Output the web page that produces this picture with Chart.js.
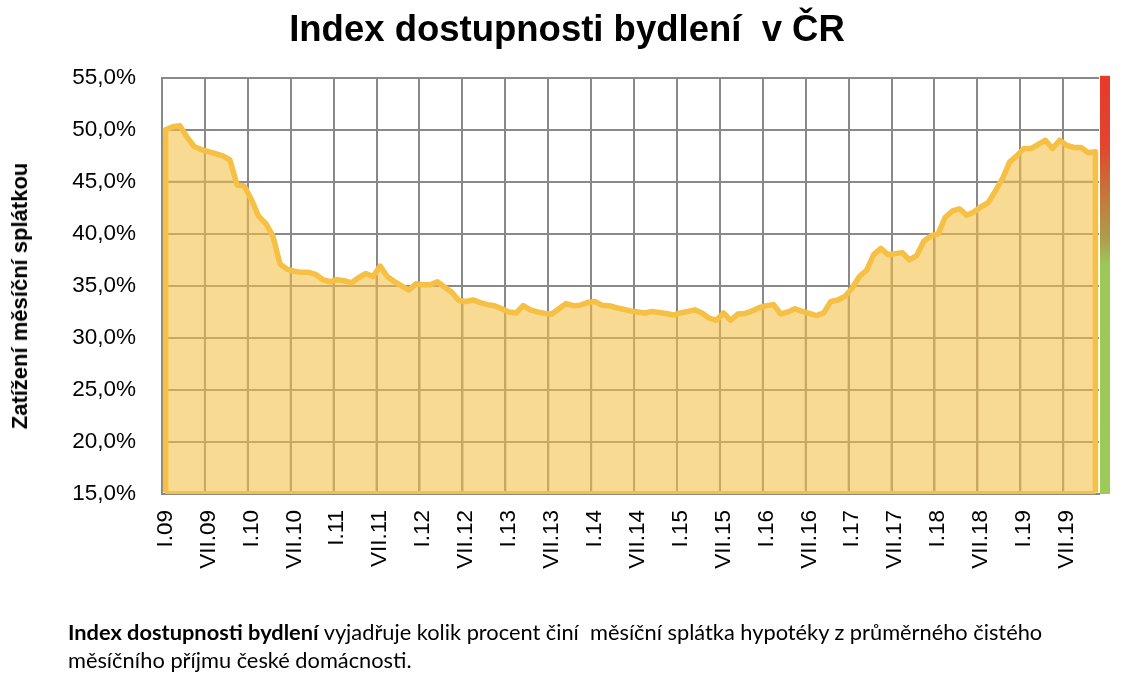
<!DOCTYPE html>
<html>
<head>
<meta charset="utf-8">
<script src="https://cdn.jsdelivr.net/npm/chart.js@4.4.1/dist/chart.umd.min.js"></script>
<style>
  html, body { margin: 0; padding: 0; background: #fff; }
  #wrap { position: relative; width: 1134px; height: 682px; overflow: hidden; }
  #chart { position: absolute; left: 0; top: 0; }
  #ytitle { position: absolute; left: 20px; top: 296px; transform: translate(-50%, -50%) rotate(-90deg);
            font: bold 22px "Liberation Sans", Arial, sans-serif; white-space: nowrap; color: #000; }
  #note { position: absolute; left: 68px; top: 618px; font: 21.8px Lato, sans-serif; line-height: 28px; color: #000; white-space: nowrap; }
  #note b { font-weight: 700; }
</style>
</head>
<body>
<div id="wrap">
  <canvas id="chart" width="1134" height="682"></canvas>
  <div id="ytitle">Zatížení měsíční splátkou</div>
  <div id="note"><b>Index dostupnosti bydlení</b> vyjadřuje kolik procent činí&nbsp; měsíční splátka hypotéky z průměrného čistého<br>měsíčního příjmu české domácnosti.</div>
</div>
<script>
// ---- data ----
const monthNames = ['I','II','III','IV','V','VI','VII','VIII','IX','X','XI','XII'];
const yearLabels = ['09','10','11','12','13','14','15','16','17','18','19'];
const indexValues = [
  50.0, 50.3, 50.4, 49.3, 48.4, 48.1, 47.9, 47.7, 47.5, 47.1, 44.7, 44.6,   // 2009
  43.3, 41.7, 41.0, 39.8, 37.1, 36.6, 36.4, 36.3, 36.3, 36.1, 35.6, 35.4,   // 2010
  35.6, 35.5, 35.3, 35.8, 36.2, 35.9, 36.9, 35.9, 35.4, 35.0, 34.6, 35.2,   // 2011
  35.1, 35.1, 35.4, 34.9, 34.4, 33.6, 33.5, 33.65, 33.4, 33.2, 33.1, 32.8,  // 2012
  32.5, 32.4, 33.1, 32.7, 32.5, 32.35, 32.3, 32.8, 33.3, 33.1, 33.15, 33.4, // 2013
  33.5, 33.15, 33.1, 32.9, 32.75, 32.6, 32.5, 32.4, 32.55, 32.45, 32.35, 32.2, // 2014
  32.4, 32.55, 32.7, 32.4, 31.9, 31.7, 32.4, 31.7, 32.3, 32.35, 32.6, 32.9, // 2015
  33.1, 33.2, 32.3, 32.5, 32.8, 32.55, 32.35, 32.15, 32.4, 33.5, 33.65, 34.0, // 2016
  34.8, 35.9, 36.5, 38.0, 38.6, 38.0, 38.1, 38.2, 37.5, 37.9, 39.3, 39.8,   // 2017
  40.0, 41.6, 42.2, 42.4, 41.8, 42.1, 42.6, 43.0, 44.1, 45.3, 46.9, 47.5,   // 2018
  48.2, 48.2, 48.6, 49.0, 48.2, 49.0, 48.5, 48.3, 48.3, 47.8, 47.9          // 2019
];
const labelEvery = 6;
const yMin = 15, yMax = 55, yStep = 5;

const categories = [];
for (const y of yearLabels) {
  for (const m of monthNames) {
    if (categories.length < indexValues.length) categories.push(m + '.' + y);
  }
}

// ---- styles ----
const GRID = '#898989';
const GRID_IN_FILL = 'rgb(201,168,100)';
const LINE = 'rgb(245,192,68)';
const FILL = 'rgba(245,192,68,0.58)';
const FONT = '"Liberation Sans", Arial, sans-serif';

// gridlines seen through the filled area (drawn after the fill, before the line)
const gridThroughFill = {
  id: 'gridThroughFill',
  beforeDatasetDraw(chart, args) {
    const pts = args.meta.data;
    if (!pts.length) return;
    const { ctx, chartArea: a, scales: { x: xs, y: ys } } = chart;
    const base = ys.getPixelForValue(ys.min);
    ctx.save();
    ctx.beginPath();
    ctx.rect(a.left, a.top, a.right - a.left, a.bottom - a.top);
    ctx.clip();
    ctx.beginPath();
    ctx.moveTo(pts[0].x, base);
    for (const p of pts) ctx.lineTo(p.x, p.y);
    ctx.lineTo(pts[pts.length - 1].x, base);
    ctx.closePath();
    ctx.clip();
    ctx.strokeStyle = GRID_IN_FILL;
    ctx.lineWidth = 2;
    const half = (xs.getPixelForValue(1) - xs.getPixelForValue(0)) / 2;
    ctx.beginPath();
    for (let i = 0; i < pts.length; i += labelEvery) {
      const gx = xs.getPixelForValue(i) - half;
      ctx.moveTo(gx, a.top); ctx.lineTo(gx, a.bottom);
    }
    for (let v = yMin; v <= yMax; v += yStep) {
      const gy = ys.getPixelForValue(v);
      ctx.moveTo(a.left, gy); ctx.lineTo(a.right, gy);
    }
    ctx.stroke();
    ctx.restore();
  }
};

const areaEdges = {
  id: 'areaEdges',
  afterDatasetsDraw(chart) {
    const pts = chart.getDatasetMeta(0).data;
    if (!pts.length) return;
    const first = pts[0], last = pts[pts.length - 1];
    const base = chart.scales.y.getPixelForValue(chart.scales.y.min);
    const ctx = chart.ctx;
    ctx.save();
    ctx.strokeStyle = LINE;
    ctx.lineWidth = 5.5;
    ctx.lineJoin = 'round';
    ctx.beginPath();
    ctx.moveTo(first.x, first.y);
    ctx.lineTo(first.x, base - 1.5);
    ctx.stroke();
    ctx.beginPath();
    ctx.moveTo(last.x, base - 1.5);
    ctx.lineTo(last.x, last.y);
    ctx.stroke();
    ctx.lineWidth = 3;
    ctx.beginPath();
    ctx.moveTo(first.x, base - 1.5);
    ctx.lineTo(last.x, base - 1.5);
    ctx.stroke();
    ctx.restore();
  }
};

const scaleBar = {
  id: 'scaleBar',
  afterDraw(chart) {
    const { ctx, chartArea: a } = chart;
    const g = ctx.createLinearGradient(0, a.top, 0, a.bottom);
    g.addColorStop(0, '#E8392B');
    g.addColorStop(0.16, '#E2452E');
    g.addColorStop(0.29, '#C47A3C');
    g.addColorStop(0.38, '#AE9A4C');
    g.addColorStop(0.45, '#9CC85A');
    g.addColorStop(1, '#9CCB5A');
    ctx.save();
    ctx.fillStyle = g;
    ctx.fillRect(a.right + 1, a.top - 2, 10, a.bottom - a.top + 2);
    ctx.restore();
  }
};

new Chart(document.getElementById('chart'), {
  type: 'line',
  data: {
    labels: categories,
    datasets: [{
      data: indexValues,
      borderColor: LINE,
      backgroundColor: FILL,
      borderWidth: 5.5,
      borderJoinStyle: 'round',
      borderCapStyle: 'round',
      pointRadius: 0,
      tension: 0,
      fill: 'start'
    }]
  },
  options: {
    responsive: false,
    animation: false,
    layout: { padding: { left: 0, right: 0, top: 0, bottom: 88 } },
    plugins: {
      legend: { display: false },
      tooltip: { enabled: false },
      title: {
        display: true,
        text: 'Index dostupnosti bydlení  v ČR',
        color: '#000',
        font: { family: FONT, size: 36.5, weight: 'bold' },
        padding: { top: 9, bottom: 25 }
      }
    },
    scales: {
      x: {
        type: 'category',
        offset: true,
        grid: {
          offset: true,
          color: c => (c.index % labelEvery === 0 ? GRID : 'rgba(0,0,0,0)'),
          lineWidth: 2,
          drawTicks: false,
          z: -1
        },
        border: { color: GRID, width: 2 },
        ticks: {
          autoSkip: false,
          minRotation: 90,
          maxRotation: 90,
          padding: 16,
          color: '#000',
          font: { family: FONT, size: 22.5 },
          callback: function (v, i) { return i % labelEvery === 0 ? this.getLabelForValue(v) : ''; }
        },
        afterFit(s) { s.height = 100; s.paddingLeft = 0; s.paddingRight = 0; }
      },
      y: {
        min: yMin,
        max: yMax,
        grid: { color: GRID, lineWidth: 2, drawTicks: false, z: -1 },
        border: { color: GRID, width: 2 },
        ticks: {
          stepSize: yStep,
          padding: 26,
          color: '#000',
          font: { family: FONT, size: 22.5 },
          callback: v => v.toFixed(1).replace('.', ',') + '%'
        },
        afterFit(s) { s.width = 162; s.paddingTop = 0; s.paddingBottom = 0; }
      },
      y2: {
        type: 'linear',
        position: 'right',
        display: true,
        grid: { display: false, drawTicks: false },
        border: { display: false },
        ticks: { display: false },
        afterFit(s) { s.width = 35; s.paddingTop = 0; s.paddingBottom = 0; }
      }
    }
  },
  plugins: [gridThroughFill, areaEdges, scaleBar]
});
</script>
</body>
</html>
